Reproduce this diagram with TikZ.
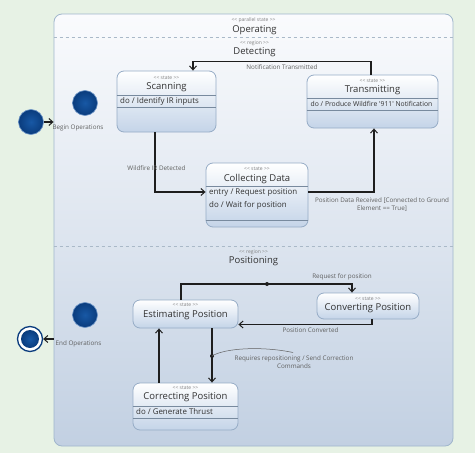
\documentclass[tikz,border=0pt]{standalone}
\usepackage{fontspec}
\setmainfont{Open Sans}
\usetikzlibrary{arrows.meta,calc}
\definecolor{bgcol}{RGB}{231,242,229}
\definecolor{contborder}{RGB}{160,182,204}
\definecolor{conttop}{RGB}{250,251,253}
\definecolor{contbottom}{RGB}{194,208,226}
\definecolor{stateborder}{RGB}{150,172,198}
\definecolor{statebottom}{RGB}{196,212,232}
\definecolor{stereogray}{RGB}{130,130,130}
\definecolor{namegray}{RGB}{50,50,50}
\definecolor{labelgray}{RGB}{95,95,95}
\definecolor{dashcol}{RGB}{170,185,200}
\definecolor{ballin}{RGB}{24,88,165}
\definecolor{ballout}{RGB}{10,60,125}
\definecolor{ballrim}{RGB}{110,150,200}
\definecolor{linecol}{RGB}{30,30,30}
\tikzset{
  container/.style={draw=contborder, line width=0.8pt, rounded corners=8pt, top color=conttop, bottom color=contbottom, inner sep=0pt},
  statebox/.style={draw=stateborder, line width=0.8pt, rounded corners=7pt, top color=white, bottom color=statebottom, inner sep=0pt},
  compline/.style={draw=stateborder!80!black, line width=0.6pt},
  stereo/.style={font=\fontsize{5}{6}\selectfont, text=stereogray, inner sep=0pt},
  sname/.style={font=\fontsize{9.5}{11}\selectfont, text=namegray, inner sep=0pt},
  comptext/.style={font=\fontsize{7.9}{9}\selectfont, text=namegray, inner sep=0pt, anchor=west},
  elabel/.style={font=\fontsize{6.3}{7.6}\selectfont, text=labelgray, inner sep=0pt, align=center},
  regionline/.style={draw=dashcol, dashed, line width=0.7pt},
  arr/.style={draw=linecol, line width=1.3pt, -{Straight Barb[length=4pt,width=7pt,line width=1pt]}},
  plainline/.style={draw=linecol, line width=1.3pt},
  pseudo/.style={circle, inner sep=0pt, minimum size=25pt, draw=ballrim, line width=0.6pt, inner color=ballin, outer color=ballout},
  finring/.style={circle, inner sep=0pt, minimum size=25pt, draw=ballout, line width=1.3pt, fill=white},
  finball/.style={circle, inner sep=0pt, minimum size=18pt, inner color=ballin, outer color=ballout},
  jdot/.style={circle, fill=linecol, inner sep=0pt, minimum size=4pt},
}
\begin{document}
\begin{tikzpicture}[x=1pt,y=-1pt]
\useasboundingbox (0,0) rectangle (475,453);
\fill[bgcol] (0,0) rectangle (475,453);

% container
\node[container, minimum width=399pt, minimum height=432pt] (op) at (253.5,230) {};
\node[stereo] (opst) at (253.5,20) {<{}< parallel state >{}>};
\node[sname] (opname) at (254.5,30) {Operating};
\draw[regionline] (op.west |- 0,37.5) -- (op.east |- 0,37.5);
\node[stereo] (detst) at (254.5,43) {<{}< region >{}>};
\node[sname] (detname) at (254.5,52.5) {Detecting};
\draw[regionline] (op.west |- 0,246) -- (op.east |- 0,246);
\node[stereo] (posst) at (253.5,252) {<{}< region >{}>};
\node[sname] (posname) at (253.5,261.5) {Positioning};

% pseudostates
\node[pseudo] (init) at (31,122) {};
\node[elabel] (initlab) at (78,127.5) {Begin Operations};
\node[pseudo] (r1init) at (85,103) {};
\node[pseudo] (r2init) at (85,315) {};
\node[finring] (fin) at (30,339) {};
\node[finball] (finin) at (30,339) {};
\node[elabel] (finlab) at (78.5,343.5) {End Operations};
\draw[arr] (init.east) -- (init -| op.west);
\draw[arr] (fin -| op.west) -- (fin.east);

% Scanning
\node[statebox, minimum width=99pt, minimum height=61pt] (scan) at (166.5,101.5) {};
\draw[compline] (scan.west |- 0,95) -- (scan.east |- 0,95);
\draw[compline] (scan.west |- 0,107) -- (scan.east |- 0,107);
\node[stereo] (scanst) at (166.5,78) {<{}< state >{}>};
\node[sname] (scanname) at (166.5,87.5) {Scanning};
\node[comptext] (scando) at (120,101) {do / Identify IR inputs};

% Transmitting
\node[statebox, minimum width=131pt, minimum height=53pt] (trans) at (372.5,101.5) {};
\draw[compline] (trans.west |- 0,98) -- (trans.east |- 0,98);
\draw[compline] (trans.west |- 0,110) -- (trans.east |- 0,110);
\node[stereo] (transst) at (372.5,81) {<{}< state >{}>};
\node[sname] (transname) at (372.5,90.5) {Transmitting};
\node[comptext, font=\fontsize{6.8}{8}\selectfont] (transdo) at (310.5,104) {do / Produce Wildfire \textquotesingle 911\textquotesingle\ Notification};

% Collecting Data
\node[statebox, minimum width=102pt, minimum height=64pt] (coll) at (257,195) {};
\draw[compline] (coll.west |- 0,186.5) -- (coll.east |- 0,186.5);
\draw[compline] (coll.west |- 0,220.5) -- (coll.east |- 0,220.5);
\node[stereo] (collst) at (257,169) {<{}< state >{}>};
\node[sname] (collname) at (257,179) {Collecting Data};
\node[comptext] (collentry) at (209,192.5) {entry / Request position};
\node[comptext] (colldo) at (209,205) {do / Wait for position};

% Estimating Position
\node[statebox, minimum width=105pt, minimum height=28pt] (est) at (185.5,314) {};
\node[stereo] (estst) at (185.5,305) {<{}< state >{}>};
\node[sname] (estname) at (185.5,315) {Estimating Position};

% Converting Position
\node[statebox, minimum width=102pt, minimum height=26pt] (conv) at (368,306) {};
\node[stereo] (convst) at (368,299) {<{}< state >{}>};
\node[sname] (convname) at (368,308.5) {Converting Position};

% Correcting Position
\node[statebox, minimum width=105pt, minimum height=47pt] (corr) at (185.5,406.5) {};
\draw[compline] (corr.west |- 0,406) -- (corr.east |- 0,406);
\draw[compline] (corr.west |- 0,418) -- (corr.east |- 0,418);
\node[stereo] (corrst) at (185.5,388) {<{}< state >{}>};
\node[sname] (corrname) at (185.5,397.5) {Correcting Position};
\node[comptext] (corrdo) at (136,412) {do / Generate Thrust};

% Detecting transitions
\draw[arr] ($(trans.north)+(-1.5,0)$) -- ++(0,-13) -| ($(scan.north)+(26.5,0)$);
\node[elabel] (l1) at (282,67.5) {Notification Transmitted};
\draw[arr] ($(scan.south)+(-11.5,0)$) |- ($(coll.west)+(0,-3)$);
\node[elabel] (l2) at (156.5,168.5) {Wildfire IR Detected};
\draw[arr] ($(coll.east)+(0,-3)$) -| ($(trans.south)+(1.5,0)$);
\node[elabel] (l3) at (382,204.5) {Position Data Received [Connected to Ground\\Element == True]};

% Positioning transitions
\node[jdot] (j1) at (267,284) {};
\draw[arr] ($(est.north)+(-4.5,0)$) |- (j1.center) -| ($(conv.north)+(-16,0)$);
\node[elabel] (l4) at (342,276.5) {Request for position};
\draw[arr] ($(conv.south)+(4,0)$) |- ($(est.east)+(0,10.5)$);
\node[elabel] (l5) at (310.5,330.5) {Position Converted};
\node[jdot] (j2) at (212,356) {};
\draw[arr] ($(est.south)+(26.5,0)$) -- (j2.center) -- ($(corr.north)+(26.5,0)$);
\node[elabel] (l6) at (294,362) {Requires repositioning / Send Correction\\Commands};
\draw[draw=labelgray, line width=0.5pt] (j2.center) .. controls (225,348) and (262,346) .. (293,352.5);
\draw[arr] ($(corr.north)+(-26.5,0)$) -- ($(est.south)+(-26.5,0)$);
\end{tikzpicture}
\end{document}
